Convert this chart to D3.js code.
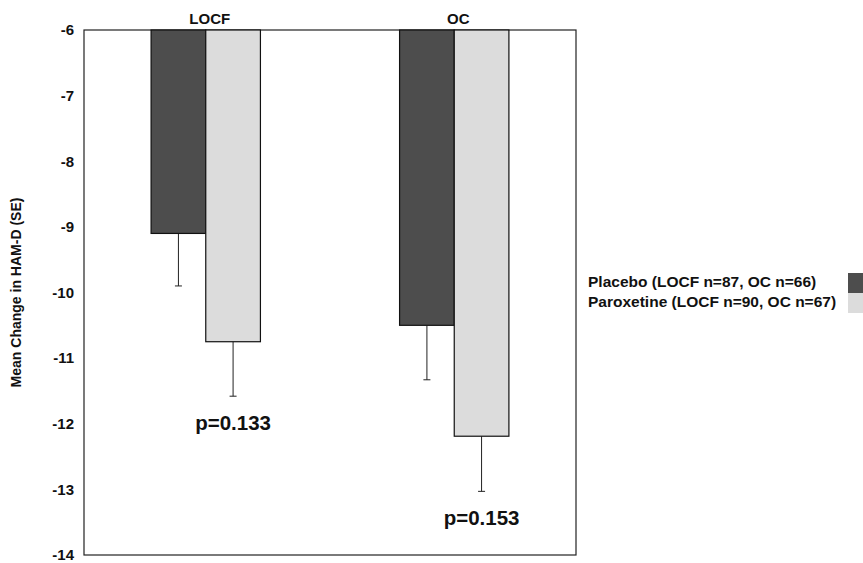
<!DOCTYPE html>
<html>
<head>
<meta charset="utf-8">
<script src="https://cdn.jsdelivr.net/npm/d3@7"></script>
<style>
  body { margin: 0; background: #fff; }
  text { font-family: Arial, "Liberation Sans", sans-serif; font-weight: bold; }
</style>
</head>
<body>
<svg id="chart"></svg>
<script>
const groups = ["LOCF", "OC"];
const series = ["Placebo (LOCF n=87, OC n=66)", "Paroxetine (LOCF n=90, OC n=67)"];
const placeboMean = [-9.1, -10.5];
const placeboSE = [0.8, 0.83];
const paroxMean = [-10.75, -12.19];
const paroxSE = [0.83, 0.84];
const pValues = ["p=0.133", "p=0.153"];
const yTicks = [-6, -7, -8, -9, -10, -11, -12, -13, -14];

const width = 863, height = 563,
      mLeft = 84, mRight = 576, mTop = 30, mBottom = 555;

const svg = d3.select("#chart")
    .attr("width", width)
    .attr("height", height);

const colors = ["#4d4d4d", "#dcdcdc"];

const x0 = d3.scaleBand()
    .domain(groups)
    .range([mLeft, mRight])
    .paddingInner(0.56)
    .paddingOuter(0.27);

const x1 = d3.scaleBand()
    .domain(series)
    .range([0, x0.bandwidth()]);

const y = d3.scaleLinear()
    .domain([-14, -6])
    .range([mBottom, mTop]);

const data = groups.map((g, i) => ({
    group: g,
    p: pValues[i],
    bars: [
        {name: series[0], mean: placeboMean[i], se: placeboSE[i]},
        {name: series[1], mean: paroxMean[i], se: paroxSE[i]}
    ]
}));

// frame
svg.append("rect")
    .attr("x", mLeft)
    .attr("y", mTop)
    .attr("width", mRight - mLeft)
    .attr("height", mBottom - mTop)
    .attr("fill", "none")
    .attr("stroke", "#222")
    .attr("stroke-width", 1.2);

const g = svg.selectAll(".grp")
    .data(data)
    .enter().append("g")
        .attr("class", "grp")
        .attr("transform", (d) => `translate(${x0(d.group)},0)`);

// error bars (behind bars)
g.selectAll(".err")
    .data((d) => d.bars)
    .enter().append("path")
        .attr("class", "err")
        .attr("fill", "none")
        .attr("stroke", "#222")
        .attr("stroke-width", 1)
        .attr("d", (d) => {
            const cx = x1(d.name) + x1.bandwidth() / 2;
            const y1 = y(d.mean), y2 = y(d.mean - d.se);
            return `M${cx},${y1} V${y2} M${cx - 3.5},${y2} H${cx + 3.5}`;
        });

g.selectAll(".bar")
    .data((d) => d.bars)
    .enter().append("rect")
        .attr("class", "bar")
        .attr("x", (d) => x1(d.name))
        .attr("y", y(-6))
        .attr("width", x1.bandwidth())
        .attr("height", (d) => y(d.mean) - y(-6))
        .attr("fill", (d, i) => colors[i])
        .attr("stroke", "#111")
        .attr("stroke-width", 1.2);

// group labels on top
g.append("text")
    .attr("x", x0.bandwidth() / 2 + 4)
    .attr("y", mTop - 6)
    .attr("text-anchor", "middle")
    .attr("font-size", 15)
    .attr("fill", "#111")
    .text((d) => d.group);

// p-values below the paroxetine error bars
g.append("text")
    .attr("x", x1(series[1]) + x1.bandwidth() / 2)
    .attr("y", (d) => y(d.bars[1].mean - d.bars[1].se) + 34)
    .attr("text-anchor", "middle")
    .attr("font-size", 20.5)
    .attr("fill", "#111")
    .text((d) => d.p);

// y axis labels
const yAxis = d3.axisLeft(y)
    .tickValues(yTicks)
    .tickSize(0)
    .tickPadding(10)
    .tickFormat((d) => String(d));

const ax = svg.append("g")
    .attr("transform", `translate(${mLeft},0)`)
    .call(yAxis);
ax.select(".domain").remove();
ax.selectAll("text")
    .attr("font-size", 15)
    .attr("fill", "#111")
    .style("font-family", "Arial, 'Liberation Sans', sans-serif")
    .style("font-weight", "bold");

svg.append("text")
    .attr("transform", `translate(21,${(mTop + mBottom) / 2}) rotate(-90)`)
    .attr("text-anchor", "middle")
    .attr("font-size", 14)
    .attr("fill", "#111")
    .text("Mean Change in HAM-D (SE)");

// legend
const legend = svg.selectAll(".leg")
    .data(series)
    .enter().append("g")
        .attr("class", "leg")
        .attr("transform", (d, i) => `translate(0,${273 + i * 20})`);

legend.append("rect")
    .attr("x", 848)
    .attr("y", 0)
    .attr("width", 20)
    .attr("height", 20)
    .attr("fill", (d, i) => colors[i]);

legend.append("text")
    .attr("x", 588)
    .attr("y", 14)
    .attr("font-size", 15.5)
    .attr("fill", "#111")
    .text((d) => d);
</script>
</body>
</html>
